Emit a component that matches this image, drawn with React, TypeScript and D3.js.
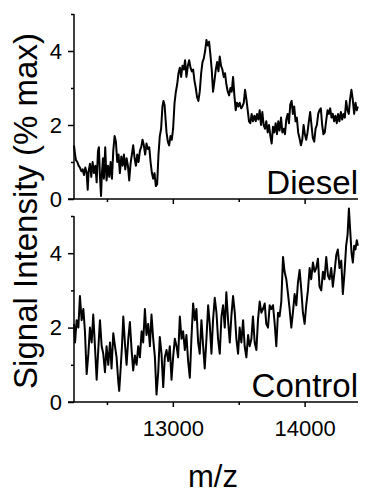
import React, { useEffect, useRef } from "react";
import * as d3 from "d3";

// m/z, signal intensity (% max)
const diesel: [number, number][] = [
  [12250, 1.45], [12258, 1.2], [12265, 1.05], [12275, 1.0], [12285, 0.9], [12295, 0.85],
  [12306, 0.75], [12316, 0.8], [12326, 0.65], [12336, 0.85], [12346, 0.7], [12354, 0.25],
  [12361, 0.75], [12371, 0.95], [12381, 0.6], [12391, 1.0], [12402, 0.7], [12412, 0.9],
  [12422, 0.45], [12432, 1.3], [12439, 1.4], [12447, 0.6], [12455, 0.08], [12462, 0.7],
  [12470, 1.1], [12477, 0.55], [12487, 1.4], [12497, 0.5], [12508, 0.9], [12518, 0.6],
  [12528, 1.0], [12538, 0.55], [12548, 1.3], [12558, 1.7], [12568, 1.55], [12578, 1.0],
  [12588, 1.2], [12598, 0.7], [12609, 1.15], [12619, 0.9], [12629, 1.2], [12639, 0.8],
  [12649, 1.1], [12659, 0.9], [12669, 0.5], [12679, 0.95], [12689, 1.2], [12699, 1.45],
  [12710, 1.1], [12720, 0.9], [12730, 1.2], [12740, 1.0], [12750, 1.3], [12760, 1.4],
  [12770, 1.6], [12780, 1.45], [12790, 1.2], [12800, 1.5], [12811, 1.35], [12821, 1.4],
  [12831, 1.0], [12841, 0.7], [12851, 0.55], [12861, 0.7], [12871, 0.35], [12881, 0.4],
  [12891, 1.2], [12901, 1.7], [12911, 1.9], [12921, 2.5], [12929, 2.65], [12937, 2.55],
  [12944, 2.2], [12952, 1.8], [12962, 1.55], [12972, 1.45], [12982, 1.7], [12992, 1.6],
  [13002, 1.9], [13013, 2.6], [13023, 2.9], [13033, 3.1], [13043, 3.4], [13053, 3.55],
  [13063, 3.3], [13073, 3.6], [13083, 3.5], [13093, 3.75], [13103, 3.3], [13114, 3.6],
  [13124, 3.75], [13134, 3.55], [13144, 3.45], [13154, 3.5], [13164, 3.2], [13174, 3.0],
  [13184, 2.75], [13194, 2.65], [13204, 2.9], [13215, 3.4], [13225, 3.7], [13235, 3.8],
  [13245, 4.0], [13255, 4.3], [13265, 4.15], [13275, 4.25], [13285, 3.9], [13295, 3.5],
  [13305, 2.9], [13316, 3.2], [13326, 3.5], [13336, 3.7], [13346, 3.45], [13356, 3.85],
  [13366, 3.6], [13376, 3.5], [13386, 3.3], [13396, 3.4], [13406, 3.1], [13417, 2.9],
  [13427, 2.8], [13437, 3.0], [13447, 2.9], [13457, 3.3], [13467, 2.8], [13477, 2.4],
  [13487, 2.6], [13497, 2.5], [13507, 2.6], [13518, 2.45], [13528, 2.5], [13538, 2.6],
  [13548, 2.95], [13558, 2.7], [13568, 2.4], [13578, 2.1], [13588, 2.05], [13598, 2.3],
  [13608, 2.1], [13619, 2.25], [13629, 2.1], [13639, 2.3], [13649, 2.15], [13659, 2.4],
  [13669, 2.0], [13679, 2.35], [13689, 2.0], [13699, 1.9], [13709, 2.1], [13720, 1.8],
  [13730, 2.0], [13740, 1.7], [13750, 1.5], [13760, 1.95], [13770, 1.8], [13780, 2.05],
  [13790, 1.75], [13800, 2.1], [13810, 1.85], [13821, 2.2], [13831, 1.8], [13841, 1.9],
  [13851, 1.75], [13861, 2.15], [13871, 2.3], [13881, 2.05], [13891, 2.55], [13901, 2.65],
  [13911, 2.3], [13921, 2.5], [13931, 2.1], [13941, 2.2], [13951, 1.8], [13961, 1.65],
  [13972, 1.45], [13982, 1.6], [13992, 2.0], [14002, 1.75], [14012, 1.6], [14022, 1.8],
  [14032, 2.1], [14042, 2.35], [14052, 2.0], [14062, 1.65], [14073, 1.55], [14083, 1.9],
  [14093, 2.0], [14103, 2.3], [14113, 2.4], [14123, 2.45], [14133, 2.0], [14143, 1.75],
  [14153, 1.8], [14163, 2.1], [14174, 2.4], [14184, 2.3], [14194, 2.45], [14204, 2.2],
  [14214, 2.3], [14224, 2.1], [14234, 2.25], [14244, 2.05], [14254, 2.3], [14264, 2.1],
  [14275, 2.35], [14285, 2.15], [14295, 2.3], [14305, 2.2], [14315, 2.65], [14325, 2.4],
  [14335, 2.3], [14345, 2.7], [14355, 2.95], [14365, 2.7], [14376, 2.3], [14386, 2.6],
  [14396, 2.4], [14403, 2.5],
];

const control: [number, number][] = [
  [12250, 2.1], [12258, 1.6], [12270, 2.2], [12283, 2.0], [12295, 2.85], [12308, 2.2],
  [12321, 2.5], [12333, 1.9], [12346, 0.75], [12359, 1.3], [12371, 2.0], [12384, 1.6],
  [12396, 2.35], [12409, 1.5], [12422, 0.6], [12434, 1.4], [12447, 2.2], [12460, 1.5],
  [12472, 1.3], [12485, 0.8], [12497, 1.5], [12510, 1.0], [12523, 1.6], [12535, 0.9],
  [12548, 1.85], [12561, 1.5], [12573, 1.2], [12586, 0.55], [12593, 0.3], [12604, 0.9],
  [12614, 1.5], [12624, 2.3], [12636, 1.6], [12649, 1.0], [12662, 1.7], [12674, 2.15],
  [12687, 1.4], [12699, 0.85], [12712, 1.25], [12725, 1.0], [12737, 1.5], [12750, 1.2],
  [12763, 1.9], [12775, 1.6], [12788, 2.5], [12800, 1.8], [12813, 2.1], [12826, 1.5],
  [12838, 2.35], [12851, 1.7], [12864, 1.2], [12876, 0.2], [12889, 0.8], [12901, 1.75],
  [12914, 1.3], [12927, 0.4], [12939, 1.2], [12952, 1.4], [12965, 1.1], [12977, 1.5],
  [12990, 0.6], [13002, 1.2], [13015, 1.7], [13028, 1.5], [13040, 1.2], [13053, 2.3],
  [13066, 1.7], [13078, 1.9], [13091, 1.4], [13103, 1.8], [13116, 1.1], [13129, 0.65],
  [13141, 1.7], [13154, 2.65], [13167, 2.2], [13179, 2.5], [13192, 1.6], [13204, 1.3],
  [13217, 2.2], [13230, 1.5], [13242, 0.9], [13255, 1.7], [13268, 2.6], [13280, 2.1],
  [13293, 1.3], [13305, 2.2], [13318, 2.8], [13331, 2.4], [13343, 1.7], [13356, 1.3],
  [13369, 2.3], [13381, 2.6], [13394, 2.0], [13406, 2.95], [13419, 2.2], [13432, 1.6],
  [13444, 2.3], [13457, 2.85], [13470, 2.4], [13482, 1.7], [13495, 1.3], [13507, 2.0],
  [13520, 1.6], [13533, 2.2], [13545, 1.5], [13558, 1.2], [13571, 1.8], [13583, 1.5],
  [13596, 1.7], [13608, 2.3], [13621, 1.6], [13634, 1.4], [13646, 2.2], [13659, 2.7],
  [13672, 2.4], [13684, 2.5], [13697, 2.65], [13709, 2.1], [13722, 2.0], [13735, 2.6],
  [13747, 2.5], [13760, 2.6], [13773, 2.1], [13785, 1.5], [13798, 2.4], [13810, 2.3],
  [13823, 2.7], [13836, 3.9], [13848, 3.5], [13861, 3.3], [13874, 2.9], [13886, 2.5],
  [13899, 2.0], [13911, 2.4], [13924, 2.9], [13937, 2.6], [13949, 3.2], [13962, 3.55],
  [13975, 3.0], [13987, 2.4], [14000, 2.1], [14012, 2.6], [14025, 3.0], [14038, 3.6],
  [14050, 3.3], [14063, 3.75], [14076, 3.5], [14088, 3.6], [14101, 3.85], [14113, 3.1],
  [14126, 3.0], [14139, 3.5], [14151, 3.3], [14164, 3.9], [14177, 3.4], [14189, 3.3],
  [14202, 3.6], [14214, 3.1], [14227, 3.5], [14240, 3.95], [14252, 4.1], [14265, 3.6],
  [14278, 3.8], [14290, 2.9], [14303, 3.5], [14315, 4.2], [14326, 4.5], [14336, 5.2],
  [14346, 4.6], [14356, 4.0], [14366, 3.75], [14376, 4.2], [14386, 4.1], [14396, 4.35],
  [14404, 4.2],
];

const panels = [
  { name: "Diesel", data: diesel },
  { name: "Control", data: control },
];

const xMajorTicks = [13000, 14000];
const xMinorTicks = [12500, 13500];
const yMajorTicks = [0, 2, 4];
const yMinorTicks = [1, 3, 5];

const FONT = "'Liberation Sans', Arial, Helvetica, sans-serif";

export default function App() {
  const ref = useRef<SVGSVGElement>(null);

  useEffect(() => {
    const svg = d3.select(ref.current);
    svg.selectAll("*").remove();

    const left = 74, right = 358;
    const x = d3.scaleLinear().domain([12250, 14405]).range([left, right]);

    // panel vertical extents: [bottom, top] in px
    const extents = [[199, 14], [402, 216]];

    panels.forEach((p, i) => {
      const [bottom, top] = extents[i];
      const y = d3.scaleLinear().domain([0, 5]).range([bottom, top]);
      const g = svg.append("g");

      // x axis (labels only under the lower panel)
      const xa = g.append("g")
        .attr("transform", `translate(0,${bottom})`)
        .call(d3.axisBottom(x).tickValues(xMajorTicks).tickSizeInner(5).tickSizeOuter(0).tickPadding(13)
          .tickFormat(i === 1 ? (d3.format("d") as any) : () => ""));
      xa.select(".domain").attr("d", `M${left - 6},0H${right}`);
      xa.selectAll(".tick text").attr("font-size", 22);
      g.append("g")
        .attr("transform", `translate(0,${bottom})`)
        .call(d3.axisBottom(x).tickValues(xMinorTicks).tickSizeInner(3).tickSizeOuter(0).tickFormat(() => ""))
        .select(".domain").remove();

      // y axis
      const ya = g.append("g")
        .attr("transform", `translate(${left},0)`)
        .call(d3.axisLeft(y).tickValues(yMajorTicks).tickSizeInner(6).tickSizeOuter(0).tickPadding(6)
          .tickFormat(d3.format("d") as any));
      ya.select(".domain").attr("d", `M0,${bottom}V${top}`);
      ya.selectAll(".tick text").attr("font-size", 22);
      g.append("g")
        .attr("transform", `translate(${left},0)`)
        .call(d3.axisLeft(y).tickValues(yMinorTicks).tickSizeInner(3).tickSizeOuter(0).tickFormat(() => ""))
        .select(".domain").remove();

      g.selectAll(".domain, .tick line").attr("stroke", "#000").attr("stroke-width", 1.5);
      g.selectAll(".tick text").attr("font-family", FONT).attr("fill", "#000");

      // trace
      const line = d3.line<[number, number]>().x(d => x(d[0])).y(d => y(d[1]));
      g.append("path")
        .datum(p.data)
        .attr("d", line)
        .attr("fill", "none")
        .attr("stroke", "#000")
        .attr("stroke-width", 2)
        .attr("stroke-linejoin", "round");

      // panel label
      g.append("text")
        .attr("x", right)
        .attr("y", bottom - 5)
        .attr("text-anchor", "end")
        .attr("font-family", FONT)
        .attr("font-size", 33)
        .text(p.name);
    });

    // axis titles
    svg.append("text")
      .attr("transform", "translate(37,211) rotate(-90)")
      .attr("text-anchor", "middle")
      .attr("font-family", FONT)
      .attr("font-size", 33)
      .text("Signal Intensity (% max)");

    svg.append("text")
      .attr("x", 213)
      .attr("y", 487)
      .attr("text-anchor", "middle")
      .attr("font-family", FONT)
      .attr("font-size", 31)
      .text("m/z");
  }, []);

  return (
    <svg
      ref={ref}
      width={365}
      height={497}
      style={{ position: "absolute", left: 0, top: 0, background: "#fff" }}
    />
  );
}
